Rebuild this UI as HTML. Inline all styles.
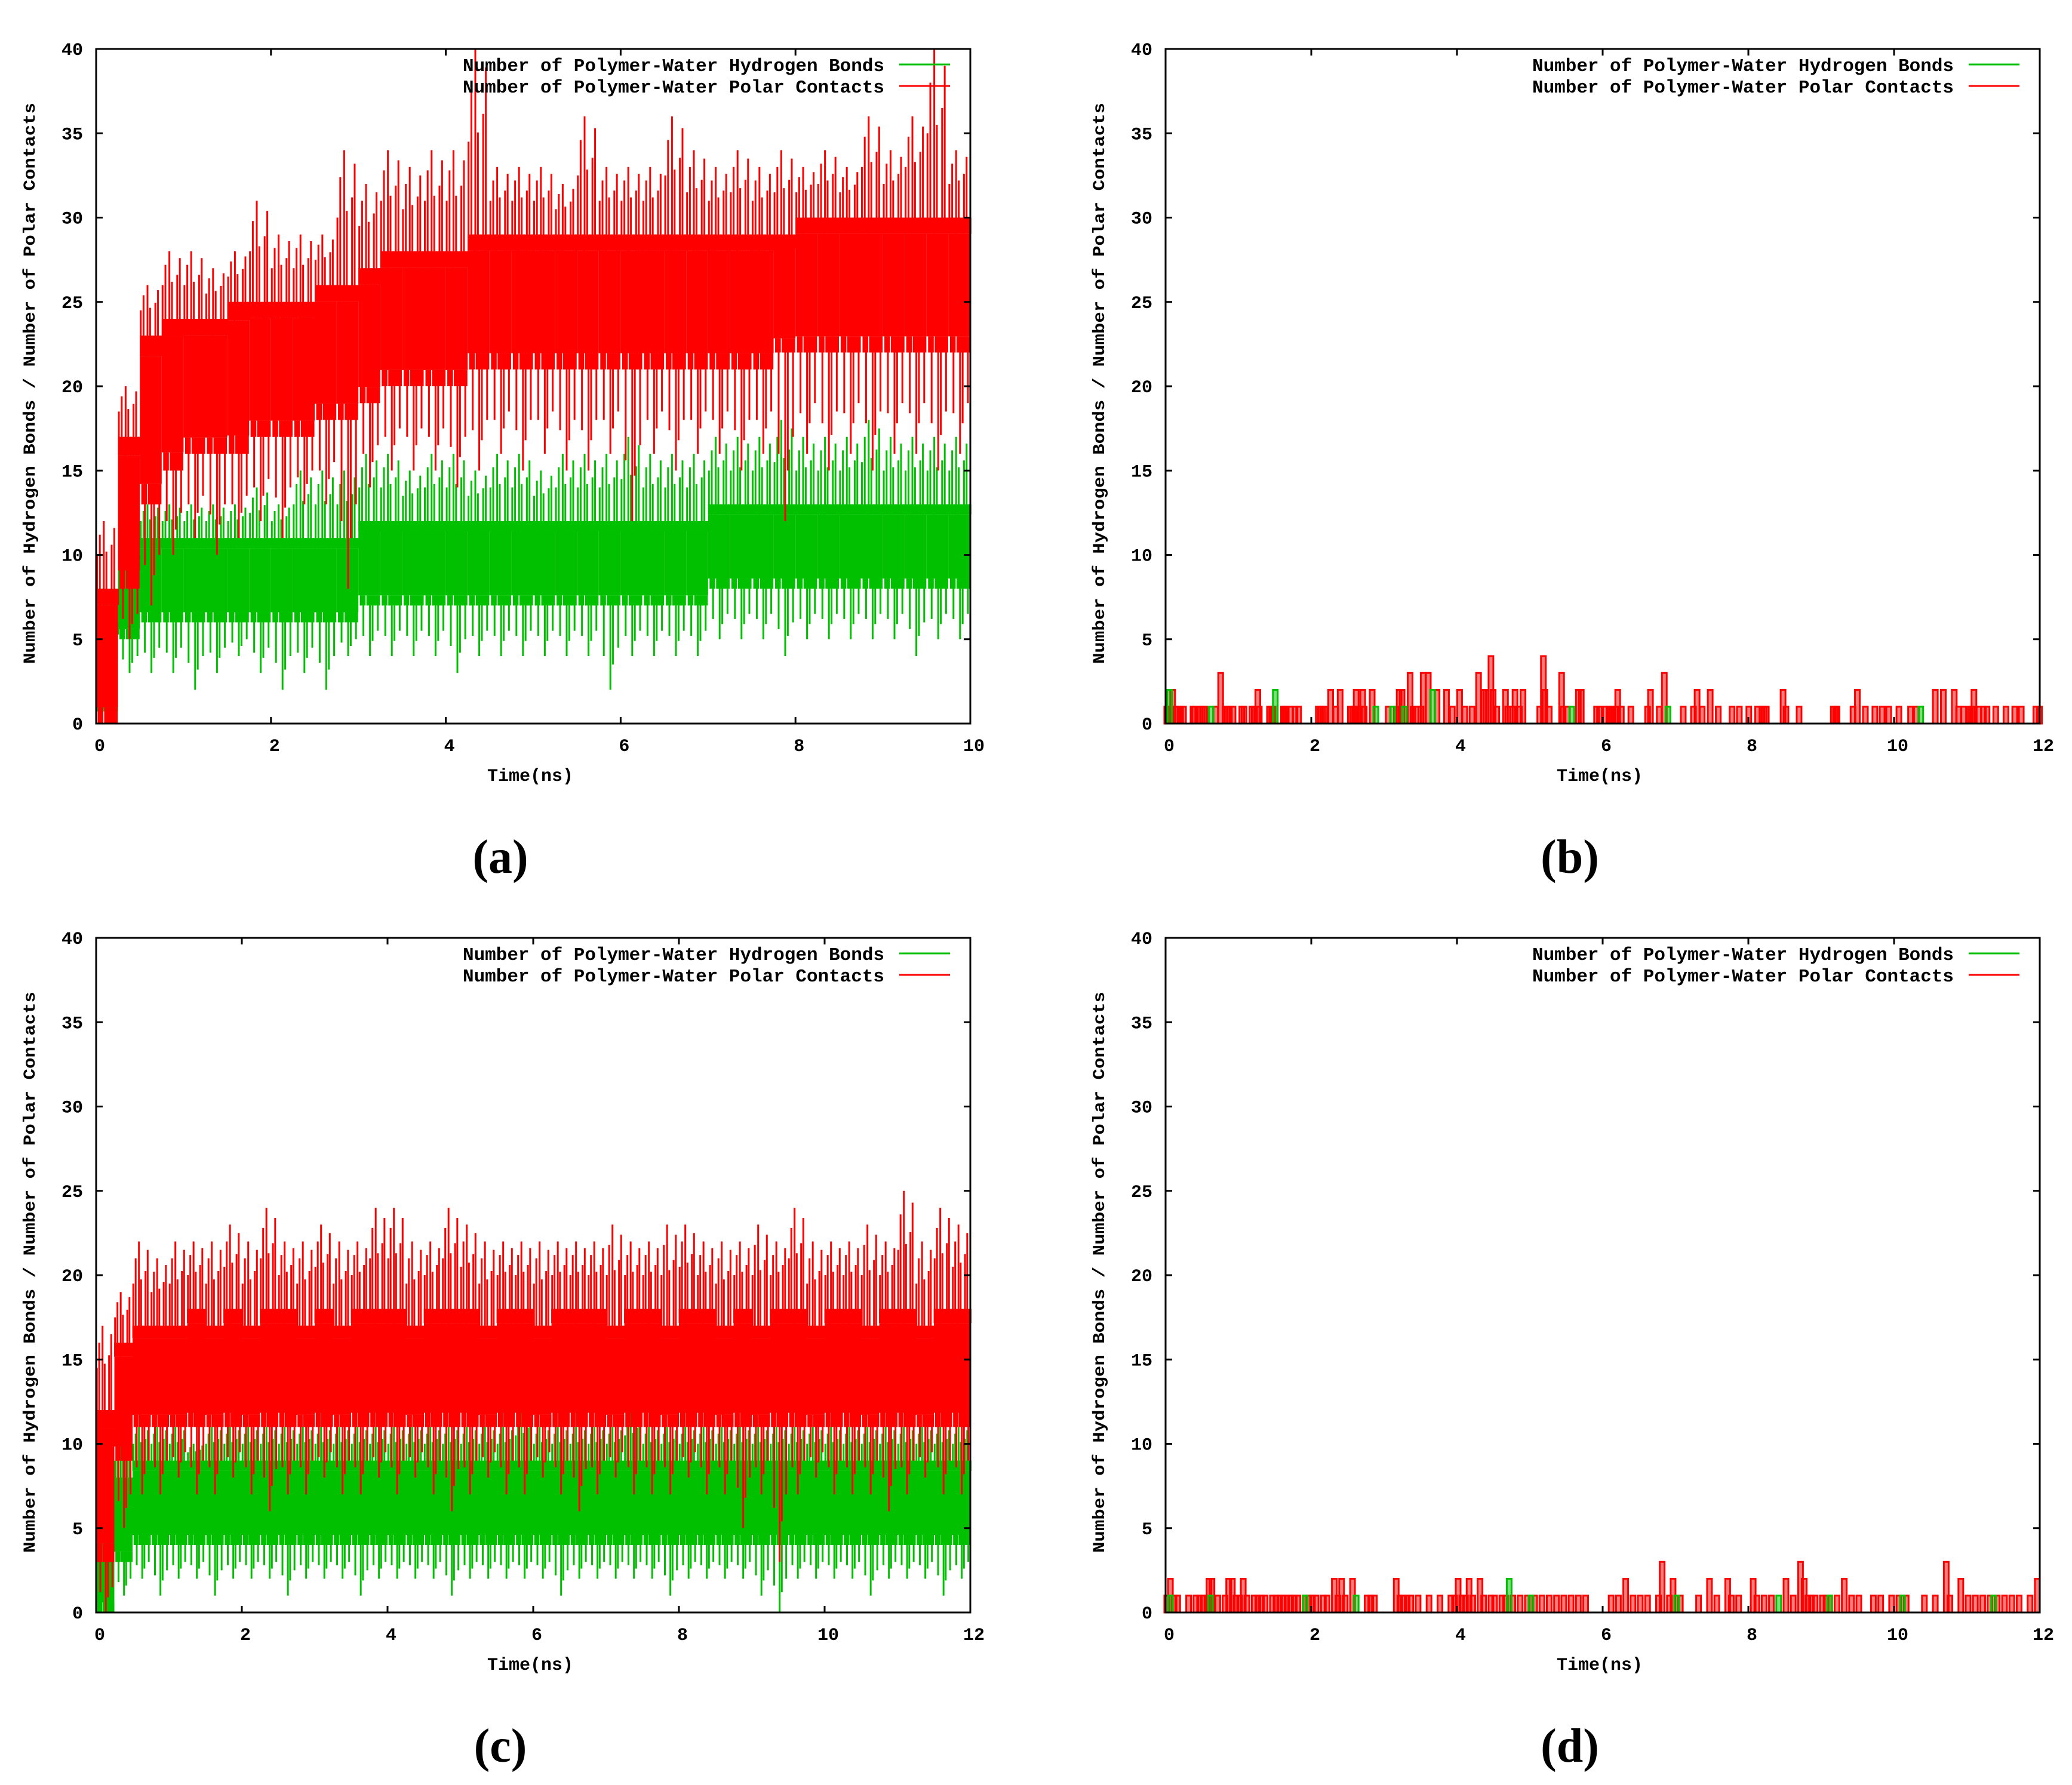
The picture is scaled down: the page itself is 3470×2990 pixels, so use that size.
<!DOCTYPE html>
<html><head><meta charset="utf-8"><style>
html,body{margin:0;padding:0;background:#fff}
svg{display:block}
text{font-family:"Liberation Mono",monospace;font-weight:bold;fill:#000}
.cap{font-family:"Liberation Serif",serif;font-weight:bold;font-size:80px}
</style></head><body>
<svg id="fig" xmlns="http://www.w3.org/2000/svg" width="3470" height="2990" viewBox="0 0 3470 2990"></svg>
<script>
// ---------- panel (a) binned data, bins of 0.25 ns ----------
const aRedCoreLo = [0,8,13,15,16,16,16,17,17,17,18,18,19,20,20,20,20,21,21,21,21,21,21,21,21,21,21,21,21,21,21,22,22,22,22,22,22,22,22,22];
const aRedCoreHi = [8,17,23,24,24,24,25,25,25,25,26,26,27,28,28,28,28,29,29,29,29,29,29,29,29,29,29,29,29,29,29,29,30,30,30,30,30,30,30,30];
const aRedSpikeLo = [0,5,7,10,11,10,11,12,11,13,13,8,14,15,15,15,14,15,16,15,16,15,15,16,12,16,15,16,16,15,16,12,16,15,16,15,16,16,15,16];
const aRedSpikeHi = [12,20,26,28,28,27,28,31,29,29,29,34,32,34,33,34,34,40,33,33,33,32,36,33,33,33,36,34,33,34,33,34,33,34,33,36,34,36,40,34];
const aGrnCoreLo = [0,5,6,6,6,6,6,6,6,6,6,6,7,7,7,7,7,7,7,7,7,7,7,7,7,7,7,7,8,8,8,8,8,8,8,8,8,8,8,8];
const aGrnCoreHi = [6,10,11,11,11,11,11,11,11,11,11,11,12,12,12,12,12,12,12,12,12,12,12,12,12,12,12,12,13,13,13,13,13,13,13,13,13,13,13,13];
const aGrnSpikeLo = [0,3,3,3,2,3,4,3,2,3,2,4,4,4,4,4,3,4,4,4,4,4,4,2,4,4,4,4,5,5,5,4,5,5,5,5,5,4,5,5];
const aGrnSpikeHi = [8,13,13,13,13,13,13,14,13,15,15,15,16,16,15,16,16,15,16,16,15,16,16,16,17,16,16,16,17,17,17,18,17,17,17,18,17,17,17,17];
// ---------- panel (c) binned data, bins of 0.25 ns ----------
const cRedCoreLo = [3,9,11,11,11,11,11,11,11,11,11,11,11,11,11,11,11,11,11,11,11,11,11,11,11,11,11,11,11,11,11,11,11,11,11,11,11,11,11,11,11,11,11,11,11,11,11,11];
const cRedCoreHi = [12,16,17,17,17,18,17,18,17,18,18,17,18,17,18,18,18,17,18,18,18,17,18,18,17,18,18,18,17,18,18,17,18,18,17,18,17,18,18,17,18,18,17,18,18,17,18,18];
const cRedSpikeLo = [0,5,7,7,8,7,7,8,7,6,7,7,8,7,7,8,7,8,7,6,7,8,7,7,8,7,6,7,8,7,7,7,8,7,7,5,7,3,7,8,7,7,7,6,7,8,7,7];
const cRedSpikeHi = [17,19,22,21,22,22,22,23,22,24,22,22,23,22,22,24,24,22,22,24,23,22,22,22,22,22,22,22,23,22,22,23,23,22,22,22,23,22,24,22,22,22,23,22,25,22,24,23];
const cGrnCoreLo = [0,3,4,4,4,4,4,4,4,4,4,4,4,4,4,4,4,4,4,4,4,4,4,4,4,4,4,4,4,4,4,4,4,4,4,4,4,4,4,4,4,4,4,4,4,4,4,4];
const cGrnCoreHi = [5,8,9,9,9,9,9,9,9,9,9,9,9,9,9,9,9,9,9,9,9,9,9,9,9,9,9,9,9,9,9,9,9,9,9,9,9,9,9,9,9,9,9,9,9,9,9,9];
const cGrnSpikeLo = [0,1,2,1,2,2,1,2,2,2,1,2,2,2,1,2,2,2,2,1,2,2,2,2,2,1,2,2,2,2,2,1,2,2,2,2,1,0,2,2,2,2,1,2,2,2,1,2];
const cGrnSpikeHi = [7,10,11,11,11,10,11,11,11,11,11,11,11,11,11,11,11,11,11,11,11,11,11,12,11,11,11,11,11,12,11,11,11,11,11,11,11,11,11,11,11,11,11,11,11,11,11,11];
// ---------- panel (b) event data ----------
const bRedT = [0,0.08,0.12,0.15,0.19,0.23,0.36,0.38,0.46,0.49,0.52,0.67,0.74,0.80,0.83,0.86,0.91,1.03,1.06,1.17,1.20,1.25,1.27,1.41,1.44,1.46,1.60,1.62,1.64,1.70,1.76,1.81,2.08,2.11,2.14,2.17,2.25,2.32,2.38,2.52,2.55,2.58,2.60,2.64,2.69,2.71,2.82,3.04,3.15,3.19,3.23,3.34,3.38,3.42,3.49,3.52,3.59,3.71,3.84,3.92,4.02,4.09,4.19,4.28,4.35,4.38,4.45,4.48,4.53,4.65,4.68,4.75,4.78,4.84,4.89,5.12,5.17,5.19,5.25,5.42,5.44,5.50,5.65,5.69,5.90,5.94,6.02,6.07,6.11,6.16,6.19,6.24,6.37,6.60,6.64,6.76,6.83,7.09,7.23,7.28,7.35,7.46,7.57,7.76,7.86,7.99,8.11,8.17,8.20,8.23,8.46,8.50,8.68,9.15,9.18,9.20,9.42,9.48,9.59,9.72,9.82,9.91,10.05,10.21,10.29,10.55,10.66,10.81,10.87,10.94,11.03,11.06,11.08,11.15,11.21,11.26,11.38,11.52,11.64,11.73,11.93,11.98];
const bRedV = [1,2,1,1,1,1,1,1,1,1,1,1,3,1,1,1,1,1,1,1,1,2,1,1,1,1,1,1,1,1,1,1,1,1,1,1,2,1,2,1,1,1,2,1,2,1,2,1,1,2,2,3,1,1,1,3,3,2,2,1,2,1,1,3,2,2,4,2,1,2,1,1,2,1,2,1,4,2,1,3,1,1,2,2,1,1,1,1,1,1,2,1,1,1,2,1,3,1,1,2,1,2,1,1,1,1,1,1,1,1,2,1,1,1,1,1,1,2,1,1,1,1,1,1,1,2,2,2,1,1,1,1,2,1,1,1,1,1,1,1,1,1,1];
const bGrnT = [0.04,0.61,1.49,2.87,3.10,3.26,3.65,5.56,6.88,10.35];
const bGrnV = [2,1,2,1,1,1,2,1,1,1];
// ---------- panel (d) event data ----------
const dRedT = [0.0,0.05,0.1,0.15,0.3,0.4,0.45,0.5,0.55,0.58,0.62,0.7,0.8,0.85,0.9,0.95,1.0,1.05,1.1,1.2,1.25,1.3,1.35,1.45,1.5,1.55,1.6,1.65,1.7,1.75,1.8,1.9,1.95,2.0,2.05,2.15,2.2,2.3,2.35,2.4,2.45,2.55,2.75,2.8,2.85,3.15,3.2,3.25,3.3,3.35,3.45,3.6,3.75,3.9,3.95,4.0,4.05,4.1,4.15,4.2,4.3,4.35,4.45,4.5,4.6,4.65,4.75,4.85,4.95,5.05,5.15,5.25,5.35,5.45,5.55,5.65,5.75,6.1,6.2,6.3,6.4,6.5,6.6,6.75,6.8,6.9,6.95,7.05,7.3,7.45,7.55,7.7,7.75,7.85,8.05,8.1,8.2,8.3,8.5,8.6,8.7,8.75,8.8,8.85,8.9,9.0,9.05,9.1,9.2,9.3,9.4,9.5,9.7,9.8,9.95,10.05,10.15,10.4,10.55,10.7,10.75,10.9,11.0,11.1,11.2,11.3,11.4,11.5,11.6,11.7,11.85,11.95];
const dRedV = [1,2,1,1,1,1,1,1,1,2,2,1,1,2,2,1,1,2,1,1,1,1,1,1,1,1,1,1,1,1,1,1,1,1,1,1,1,2,1,2,1,2,1,1,1,2,1,1,1,1,1,1,1,1,1,2,1,1,2,1,2,1,1,1,1,1,1,1,1,1,1,1,1,1,1,1,1,1,1,2,1,1,1,1,3,1,2,1,1,2,1,2,1,1,2,1,1,1,2,1,3,2,1,1,1,1,1,1,1,2,1,1,1,1,1,1,1,1,1,3,1,2,1,1,1,1,1,1,1,1,1,2];
const dGrnT = [0.05,0.6,1.9,2.6,4.7,5.0,7.0,8.4,9.1,10.1,11.35];
const dGrnV = [1,1,1,1,2,1,1,1,1,1,1];

const yTicks = [0,5,10,15,20,25,30,35,40];
const xTicksA = [0,2,4,6,8,10];
const xTicks12 = [0,2,4,6,8,10,12];

const NS = 'http://www.w3.org/2000/svg';
const svg = document.getElementById('fig');
function mk(tag, attrs, parent){
  const e = document.createElementNS(NS, tag);
  for (const k in attrs) e.setAttribute(k, attrs[k]);
  (parent||svg).appendChild(e);
  return e;
}
const RED = '#ff0000', GRN = '#00c000';
const W = 1464, H = 1130, YMAX = 40;
// texture pattern: [position in bin, fraction of way from core edge toward spike extreme, up(1)/down(0)]
const TEX = [[0.04,0.5,1],[0.11,0.2,0],[0.17,0.8,1],[0.23,0.6,0],[0.29,0.35,1],[0.35,1,1],[0.41,0.4,0],[0.47,0.55,1],
             [0.53,1,0],[0.59,0.3,1],[0.65,0.7,0],[0.71,0.65,1],[0.77,0.25,0],[0.83,0.9,1],[0.89,0.5,0],[0.95,0.4,1]];

function panel(id, x0, y0, xmax, xticks, caption){
  const g = mk('g', {});
  
  
  const sx = t => x0 + t / xmax * W;
  const sy = v => y0 + H - v / YMAX * H;
  const plot = mk('g', {}, g);
  
  
  return {g, plot, sx, sy, x0, y0, xmax, xticks, caption, id};
}

function drawBins(P, binW, coreLo, coreHi, spLo, spHi, color, name){
  const s = mk('g', {}, P.plot);
  
  
  for (let i = 0; i < coreLo.length; i++){
    const t0 = i * binW, t1 = (i + 1) * binW;
    const xa = P.sx(t0), xb = P.sx(Math.min(t1, P.xmax));
    const inset = (coreHi[i] - coreLo[i]) * 0.12;
    const r = mk('rect', {x: xa, y: P.sy(coreHi[i] - inset), width: xb - xa, height: P.sy(coreLo[i] + inset) - P.sy(coreHi[i] - inset), fill: color}, s);
    
    
    TEX.forEach(sp => {
      const x = P.sx(t0 + sp[0] * binW);
      let y1, y2;
      if (sp[2]) { y1 = coreHi[i] - inset; y2 = coreHi[i] + (spHi[i] - coreHi[i]) * sp[1]; if (sp[1] < 0.5) y2 = coreHi[i]; }
      else { y1 = coreLo[i] + inset; y2 = coreLo[i] - (coreLo[i] - spLo[i]) * sp[1]; if (sp[1] < 0.5) y2 = coreLo[i]; }
      const l = mk('line', {x1: x, x2: x, y1: P.sy(y1), y2: P.sy(Math.max(0, y2)), stroke: color, 'stroke-width': 3}, s);
      
      
      const x2 = x + 0.03 * (xb - xa);
      const l2 = mk('line', {x1: x2, x2: x2, y1: P.sy(y1), y2: P.sy(sp[2] ? coreHi[i] : coreLo[i]), stroke: color, 'stroke-width': 5}, s);
      
      
    });
  }
}
function drawEvents(P, ts, vs, color, name){
  const s = mk('g', {}, P.plot);
  
  
  ts.forEach((t, i) => {
    const x = P.sx(t);
    const r = mk('rect', {x: x - 2, y: P.sy(vs[i]), width: 8, height: P.sy(0) - P.sy(vs[i]), fill: color, 'fill-opacity': 0.5, stroke: color, 'stroke-width': 3}, s);
    
    
  });
}
function frame(P){
  const {g, sx, sy, x0, y0} = P;
  P.xticks.forEach(t => {
    const x = sx(t);
    mk('line', {x1: x, x2: x, y1: y0 + H, y2: y0 + H - 11, stroke: '#000', 'stroke-width': 3}, g);
    mk('line', {x1: x, x2: x, y1: y0, y2: y0 + 11, stroke: '#000', 'stroke-width': 3}, g);
    const tx = mk('text', {x: x + 6, y: y0 + H + 46, 'font-size': 30, 'text-anchor': 'middle'}, g);
    tx.textContent = t;
    
    
  });
  yTicks.forEach(v => {
    const y = sy(v);
    mk('line', {x1: x0, x2: x0 + 11, y1: y, y2: y, stroke: '#000', 'stroke-width': 3}, g);
    mk('line', {x1: x0 + W, x2: x0 + W - 11, y1: y, y2: y, stroke: '#000', 'stroke-width': 3}, g);
    const tx = mk('text', {x: x0 - 22, y: y + 10, 'font-size': 30, 'text-anchor': 'end'}, g);
    tx.textContent = v;
    
    
  });
  const bx = mk('rect', {x: x0, y: y0, width: W, height: H, fill: 'none', stroke: '#000', 'stroke-width': 3}, g);
  
  
  const xt = mk('text', {x: x0 + 727, y: y0 + H + 96, 'font-size': 30, 'text-anchor': 'middle'}, g);
  xt.textContent = 'Time(ns)';
  
  
  const cy = y0 + 560;
  const yt = mk('text', {x: 0, y: 0, 'font-size': 28, 'text-anchor': 'middle', textLength: 940, lengthAdjust: 'spacingAndGlyphs', transform: 'translate(' + (x0 - 103) + ',' + cy + ') rotate(-90)'}, g);
  yt.textContent = 'Number of Hydrogen Bonds / Number of Polar Contacts';
  
  
  const lg = mk('g', {}, g);
  
  
  [['Number of Polymer-Water Hydrogen Bonds', GRN, 26], ['Number of Polymer-Water Polar Contacts', RED, 62]].forEach(e => {
    const t = mk('text', {x: x0 + 1320, y: y0 + e[2] + 11, 'font-size': 31, 'text-anchor': 'end', textLength: 706, lengthAdjust: 'spacingAndGlyphs'}, lg);
    t.textContent = e[0];
    
    
    const l = mk('line', {x1: x0 + 1345, x2: x0 + 1430, y1: y0 + e[2], y2: y0 + e[2], stroke: e[1], 'stroke-width': 3}, lg);
    
    
  });
  const cap = mk('text', {x: x0 + 677, y: y0 + H + 250, 'text-anchor': 'middle', class: 'cap'}, g);
  cap.textContent = P.caption;
  
  
}

const A = panel('a', 161, 82, 10, xTicksA, '(a)');
drawBins(A, 0.25, aGrnCoreLo, aGrnCoreHi, aGrnSpikeLo, aGrnSpikeHi, GRN, 'series-hydrogen-bonds');
drawBins(A, 0.25, aRedCoreLo, aRedCoreHi, aRedSpikeLo, aRedSpikeHi, RED, 'series-polar-contacts');
frame(A);

const B = panel('b', 1952, 82, 12, xTicks12, '(b)');
drawEvents(B, bRedT, bRedV, RED, 'series-polar-contacts');
drawEvents(B, bGrnT, bGrnV, GRN, 'series-hydrogen-bonds');
frame(B);

const C = panel('c', 161, 1571, 12, xTicks12, '(c)');
drawBins(C, 0.25, cGrnCoreLo, cGrnCoreHi, cGrnSpikeLo, cGrnSpikeHi, GRN, 'series-hydrogen-bonds');
drawBins(C, 0.25, cRedCoreLo, cRedCoreHi, cRedSpikeLo, cRedSpikeHi, RED, 'series-polar-contacts');
frame(C);

const D = panel('d', 1952, 1571, 12, xTicks12, '(d)');
drawEvents(D, dRedT, dRedV, RED, 'series-polar-contacts');
drawEvents(D, dGrnT, dGrnV, GRN, 'series-hydrogen-bonds');
frame(D);
</script>
</body></html>
